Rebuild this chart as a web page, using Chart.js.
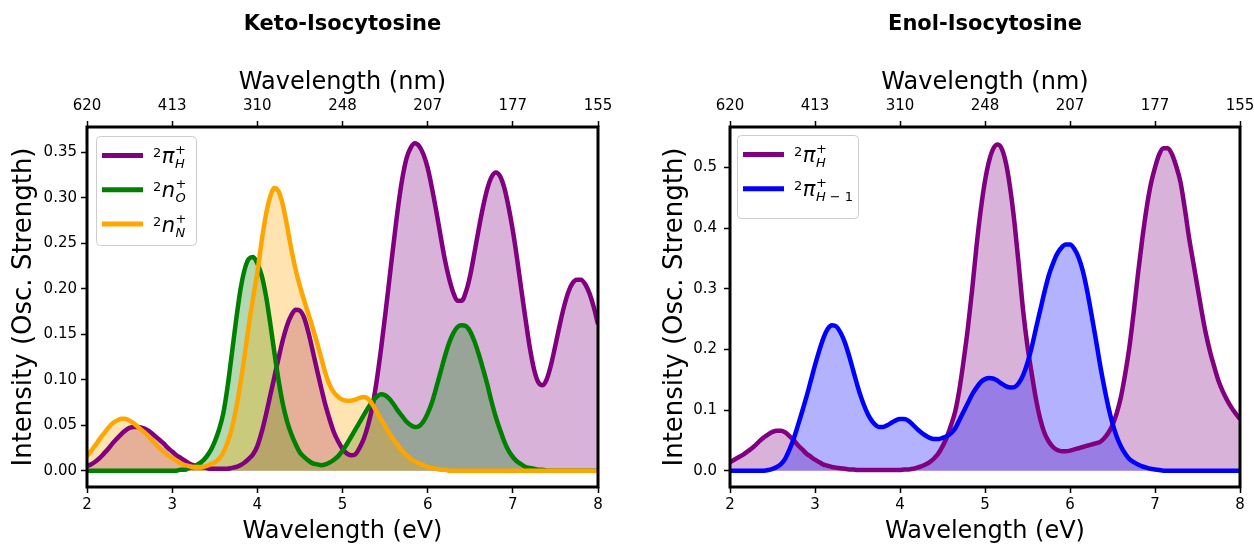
<!DOCTYPE html>
<html>
<head>
<meta charset="utf-8">
<script src="https://cdn.jsdelivr.net/npm/chart.js@4.4.1/dist/chart.umd.min.js"></script>
<style>
  body { margin: 0; background: #fff; }
  .panel { position: absolute; top: 0; width: 627px; height: 546px; }
</style>
</head>
<body>
<div class="panel" style="left:0"><canvas id="keto" width="627" height="546"></canvas></div>
<div class="panel" style="left:627px"><canvas id="enol" width="627" height="546"></canvas></div>
<script>
// energie (eV), pas de 0.05
const evGrid = [2.00, 2.05, 2.10, 2.15, 2.20, 2.25, 2.30, 2.35, 2.40, 2.45,
                2.50, 2.55, 2.60, 2.65, 2.70, 2.75, 2.80, 2.85, 2.90, 2.95,
                3.00, 3.05, 3.10, 3.15, 3.20, 3.25, 3.30, 3.35, 3.40, 3.45,
                3.50, 3.55, 3.60, 3.65, 3.70, 3.75, 3.80, 3.85, 3.90, 3.95,
                4.00, 4.05, 4.10, 4.15, 4.20, 4.25, 4.30, 4.35, 4.40, 4.45,
                4.50, 4.55, 4.60, 4.65, 4.70, 4.75, 4.80, 4.85, 4.90, 4.95,
                5.00, 5.05, 5.10, 5.15, 5.20, 5.25, 5.30, 5.35, 5.40, 5.45,
                5.50, 5.55, 5.60, 5.65, 5.70, 5.75, 5.80, 5.85, 5.90, 5.95,
                6.00, 6.05, 6.10, 6.15, 6.20, 6.25, 6.30, 6.35, 6.40, 6.45,
                6.50, 6.55, 6.60, 6.65, 6.70, 6.75, 6.80, 6.85, 6.90, 6.95,
                7.00, 7.05, 7.10, 7.15, 7.20, 7.25, 7.30, 7.35, 7.40, 7.45,
                7.50, 7.55, 7.60, 7.65, 7.70, 7.75, 7.80, 7.85, 7.90, 7.95,
                8.00];

// Keto-Isocytosine
const ketoPiH = [0.005, 0.007, 0.010, 0.014, 0.019, 0.024, 0.030, 0.035, 0.040, 0.044,
                 0.047, 0.048, 0.048, 0.047, 0.045, 0.042, 0.038, 0.034, 0.030, 0.025,
                 0.021, 0.017, 0.014, 0.011, 0.008, 0.006, 0.005, 0.004, 0.003, 0.002,
                 0.002, 0.002, 0.002, 0.002, 0.003, 0.004, 0.006, 0.009, 0.013, 0.018,
                 0.027, 0.042, 0.061, 0.082, 0.103, 0.124, 0.144, 0.160, 0.171, 0.177,
                 0.176, 0.168, 0.152, 0.132, 0.111, 0.091, 0.072, 0.056, 0.042, 0.032,
                 0.024, 0.019, 0.017, 0.018, 0.025, 0.035, 0.050, 0.070, 0.098, 0.132,
                 0.170, 0.210, 0.250, 0.288, 0.320, 0.343, 0.355, 0.360, 0.357, 0.348,
                 0.333, 0.311, 0.286, 0.259, 0.233, 0.212, 0.196, 0.187, 0.187, 0.197,
                 0.215, 0.240, 0.266, 0.290, 0.310, 0.323, 0.328, 0.324, 0.311, 0.290,
                 0.264, 0.233, 0.199, 0.166, 0.135, 0.111, 0.097, 0.094, 0.101, 0.117,
                 0.138, 0.160, 0.180, 0.196, 0.206, 0.210, 0.210, 0.205, 0.195, 0.180,
                 0.161];
const ketoNO = [0, 0, 0, 0, 0, 0, 0, 0, 0, 0,
                0, 0, 0, 0, 0, 0, 0, 0, 0, 0,
                0, 0, 0.001, 0.001, 0.003, 0.004, 0.007, 0.010, 0.015, 0.022,
                0.032, 0.045, 0.063, 0.092, 0.128, 0.165, 0.198, 0.221, 0.233, 0.235,
                0.228, 0.215, 0.193, 0.163, 0.130, 0.099, 0.073, 0.054, 0.040, 0.029,
                0.020, 0.015, 0.011, 0.008, 0.007, 0.006, 0.007, 0.009, 0.012, 0.016,
                0.022, 0.029, 0.037, 0.045, 0.053, 0.061, 0.069, 0.076, 0.081, 0.084,
                0.083, 0.079, 0.073, 0.066, 0.060, 0.054, 0.050, 0.048, 0.049, 0.054,
                0.063, 0.075, 0.091, 0.108, 0.125, 0.140, 0.151, 0.158, 0.160, 0.159,
                0.153, 0.142, 0.128, 0.112, 0.095, 0.076, 0.059, 0.045, 0.032, 0.022,
                0.015, 0.010, 0.007, 0.004, 0.003, 0.002, 0.001, 0.001, 0, 0,
                0, 0, 0, 0, 0, 0, 0, 0, 0, 0,
                0];
const ketoNN = [0.016, 0.022, 0.028, 0.035, 0.041, 0.047, 0.052, 0.055, 0.057, 0.057,
                0.055, 0.052, 0.048, 0.044, 0.040, 0.035, 0.030, 0.025, 0.021, 0.017,
                0.014, 0.011, 0.008, 0.006, 0.005, 0.004, 0.004, 0.004, 0.005, 0.007,
                0.009, 0.013, 0.020, 0.031, 0.046, 0.068, 0.095, 0.126, 0.160, 0.190,
                0.218, 0.252, 0.281, 0.301, 0.311, 0.307, 0.292, 0.269, 0.243, 0.221,
                0.203, 0.187, 0.172, 0.157, 0.141, 0.124, 0.107, 0.094, 0.086, 0.081,
                0.078, 0.077, 0.077, 0.078, 0.080, 0.081, 0.079, 0.073, 0.065, 0.057,
                0.049, 0.041, 0.034, 0.028, 0.022, 0.017, 0.013, 0.010, 0.008, 0.006,
                0.004, 0.003, 0.002, 0.001, 0.001, 0, 0, 0, 0, 0,
                0, 0, 0, 0, 0, 0, 0, 0, 0, 0,
                0, 0, 0, 0, 0, 0, 0, 0, 0, 0,
                0, 0, 0, 0, 0, 0, 0, 0, 0, 0,
                0];

// Enol-Isocytosine
const enolPiH = [0.014, 0.018, 0.022, 0.026, 0.031, 0.036, 0.042, 0.049, 0.055, 0.060,
                 0.064, 0.066, 0.066, 0.063, 0.057, 0.050, 0.042, 0.035, 0.028, 0.023,
                 0.018, 0.014, 0.010, 0.008, 0.006, 0.005, 0.004, 0.003, 0.002, 0.002,
                 0.001, 0.001, 0.001, 0.001, 0.001, 0.001, 0.001, 0.001, 0.001, 0.001,
                 0.001, 0.002, 0.002, 0.003, 0.005, 0.007, 0.010, 0.014, 0.020, 0.028,
                 0.040, 0.055, 0.075, 0.098, 0.135, 0.183, 0.237, 0.300, 0.370, 0.430,
                 0.478, 0.512, 0.532, 0.538, 0.530, 0.505, 0.462, 0.405, 0.335, 0.262,
                 0.205, 0.160, 0.118, 0.085, 0.062, 0.048, 0.039, 0.034, 0.032, 0.032,
                 0.033, 0.035, 0.037, 0.039, 0.041, 0.043, 0.045, 0.047, 0.053, 0.062,
                 0.075, 0.095, 0.122, 0.160, 0.205, 0.262, 0.325, 0.382, 0.432, 0.472,
                 0.500, 0.522, 0.532, 0.532, 0.522, 0.502, 0.476, 0.433, 0.385, 0.344,
                 0.303, 0.262, 0.225, 0.195, 0.170, 0.147, 0.130, 0.116, 0.104, 0.094,
                 0.085];
const enolPiH1 = [0, 0, 0, 0, 0, 0, 0, 0, 0, 0.001,
                  0.003, 0.006, 0.011, 0.020, 0.035, 0.053, 0.075, 0.098, 0.122, 0.148,
                  0.174, 0.198, 0.219, 0.234, 0.240, 0.238, 0.228, 0.212, 0.190, 0.165,
                  0.140, 0.118, 0.100, 0.086, 0.077, 0.072, 0.072, 0.075, 0.079, 0.083,
                  0.085, 0.085, 0.082, 0.076, 0.069, 0.063, 0.058, 0.054, 0.052, 0.052,
                  0.054, 0.057, 0.062, 0.070, 0.084, 0.098, 0.112, 0.126, 0.137, 0.146,
                  0.151, 0.153, 0.152, 0.148, 0.143, 0.139, 0.137, 0.138, 0.145, 0.158,
                  0.178, 0.204, 0.235, 0.265, 0.295, 0.322, 0.342, 0.358, 0.368, 0.373,
                  0.373, 0.366, 0.352, 0.330, 0.298, 0.260, 0.220, 0.178, 0.140, 0.106,
                  0.078, 0.056, 0.040, 0.028, 0.019, 0.014, 0.010, 0.007, 0.005, 0.003,
                  0.002, 0.001, 0, 0, 0, 0, 0, 0, 0, 0,
                  0, 0, 0, 0, 0, 0, 0, 0, 0, 0,
                  0];

// ticks
const evTicks = [2, 3, 4, 5, 6, 7, 8];
const nmLabels = ['620', '413', '310', '248', '207', '177', '155'];
const ketoYTicks = [0.00, 0.05, 0.10, 0.15, 0.20, 0.25, 0.30, 0.35];
const enolYTicks = [0.0, 0.1, 0.2, 0.3, 0.4, 0.5];

// legende : ^2 X^+_sub
const ketoNames = ['π', 'n', 'n'];
const ketoSubs = ['H', 'O', 'N'];
const enolNames = ['π', 'π'];
const enolSubs = ['H', 'H − 1'];

Chart.defaults.font.family = '"DejaVu Sans"';
Chart.defaults.color = '#000';

const pts = vals => evGrid.map((x, i) => ({ x: x, y: vals[i] }));

// cadre noir autour de la zone de tracé
const frame = {
  id: 'frame',
  afterDraw(chart) {
    const { ctx, chartArea: a } = chart;
    ctx.save();
    ctx.strokeStyle = '#000';
    ctx.lineWidth = 3;
    ctx.strokeRect(a.left, a.top, a.right - a.left, a.bottom - a.top);
    ctx.restore();
  }
};

// légende avec exposants / indices (texte mathématique)
const mathLegend = {
  id: 'mathLegend',
  afterDatasetsDraw(chart, args, opts) {
    const ctx = chart.ctx, a = chart.chartArea;
    const bx = a.left + opts.dx, by = a.top + opts.dy;
    ctx.save();
    ctx.beginPath();
    ctx.roundRect(bx + 0.5, by + 0.5, opts.w, opts.h, 4);
    ctx.fillStyle = 'rgba(255,255,255,0.8)';
    ctx.fill();
    ctx.strokeStyle = '#cccccc';
    ctx.lineWidth = 1;
    ctx.stroke();
    ctx.textAlign = 'left';
    ctx.textBaseline = 'alphabetic';
    opts.names.forEach((name, i) => {
      const y = by + 19.5 + i * 34.3;
      ctx.strokeStyle = opts.colors[i];
      ctx.lineWidth = 5;
      ctx.beginPath();
      ctx.moveTo(bx + 6, y);
      ctx.lineTo(bx + 47, y);
      ctx.stroke();
      const base = y + 7.5;
      let x = bx + 57;
      ctx.fillStyle = '#000';
      ctx.font = '13px "DejaVu Sans"';
      ctx.fillText('2', x, base - 6);
      x += ctx.measureText('2').width + 0.5;
      ctx.font = 'italic 21px "DejaVu Sans"';
      ctx.fillText(name, x, base);
      x += ctx.measureText(name).width + 0.5;
      ctx.font = '13px "DejaVu Sans"';
      ctx.fillText('+', x, base - 9);
      let sx = x;
      for (const ch of opts.subs[i]) {
        ctx.font = (/[A-Za-z]/.test(ch) ? 'italic ' : '') + '13px "DejaVu Sans"';
        ctx.fillText(ch, sx, base + 5);
        sx += ctx.measureText(ch).width;
      }
    });
    ctx.restore();
  }
};

function buildOptions(c) {
  const gridOpts = { drawOnChartArea: false, drawTicks: true, tickLength: 6, tickWidth: 1.5, tickColor: '#000' };
  return {
    responsive: false,
    animation: false,
    devicePixelRatio: 1,
    layout: { padding: { left: 0, top: 0, bottom: 0, right: c.padRight } },
    plugins: {
      legend: { display: false },
      tooltip: { enabled: false },
      filler: { drawTime: 'beforeDatasetsDraw' },
      title: {
        display: true, text: c.title, fullSize: false, color: '#000',
        font: { size: 21, weight: 'bold' }, padding: { top: 12, bottom: 0 }
      },
      mathLegend: c.legend
    },
    scales: {
      x: {
        type: 'linear', position: 'bottom', min: 2, max: 8,
        afterBuildTicks: s => { s.ticks = evTicks.map(v => ({ value: v })); },
        afterFit: s => { s.height = 59; s.paddingLeft = 0; s.paddingRight = 0; },
        ticks: { font: { size: 15 }, padding: 3, maxRotation: 0, autoSkip: false },
        grid: gridOpts,
        border: { display: false },
        title: { display: true, text: 'Wavelength (eV)', font: { size: 24 }, padding: { top: 0, bottom: 0 } }
      },
      x2: {
        type: 'linear', position: 'top', min: 2, max: 8,
        afterBuildTicks: s => { s.ticks = evTicks.map(v => ({ value: v })); },
        afterFit: s => { s.height = 89.8; s.paddingLeft = 0; s.paddingRight = 0; },
        ticks: { font: { size: 15 }, padding: 6, maxRotation: 0, autoSkip: false,
                 callback: (v, i) => nmLabels[i] },
        grid: gridOpts,
        border: { display: false },
        title: { display: true, text: 'Wavelength (nm)', font: { size: 24 }, padding: { top: 31.6, bottom: 0 } }
      },
      y: {
        type: 'linear', min: c.yMin, max: c.yMax,
        afterBuildTicks: s => { s.ticks = c.yTicks.map(v => ({ value: v })); },
        afterFit: s => { s.width = c.yWidth; },
        ticks: { font: { size: 15 }, padding: c.yTickPad, callback: v => v.toFixed(c.yDec) },
        grid: gridOpts,
        border: { display: false },
        title: { display: true, text: 'Intensity (Osc. Strength)', font: { size: 26 },
                 padding: { top: c.yTitlePad, bottom: 0 } }
      }
    }
  };
}

function line(vals, color, fillColor, order) {
  return {
    data: pts(vals), borderColor: color, backgroundColor: fillColor, fill: 'origin',
    borderWidth: 4.5, pointRadius: 0, cubicInterpolationMode: 'monotone', order: order
  };
}

new Chart(document.getElementById('keto'), {
  type: 'line',
  data: {
    datasets: [
      line(ketoPiH, 'purple', 'rgba(128,0,128,0.3)', 3),
      line(ketoNO, 'green', 'rgba(0,128,0,0.3)', 2),
      line(ketoNN, 'orange', 'rgba(255,165,0,0.3)', 1)
    ]
  },
  options: buildOptions({
    title: 'Keto-Isocytosine', padRight: 29, yWidth: 87, yTickPad: 4, yTitlePad: 8.4,
    yMin: -0.018, yMax: 0.378, yTicks: ketoYTicks, yDec: 2,
    legend: { dx: 9, dy: 9, w: 100, h: 109, names: ketoNames, subs: ketoSubs,
              colors: ['purple', 'green', 'orange'] }
  }),
  plugins: [mathLegend, frame]
});

new Chart(document.getElementById('enol'), {
  type: 'line',
  data: {
    datasets: [
      line(enolPiH, 'purple', 'rgba(128,0,128,0.3)', 2),
      line(enolPiH1, 'blue', 'rgba(0,0,255,0.3)', 1)
    ]
  },
  options: buildOptions({
    title: 'Enol-Isocytosine', padRight: 14, yWidth: 103, yTickPad: 7, yTitlePad: 32.4,
    yMin: -0.027, yMax: 0.567, yTicks: enolYTicks, yDec: 1,
    legend: { dx: 7, dy: 8, w: 121, h: 83, names: enolNames, subs: enolSubs,
              colors: ['purple', 'blue'] }
  }),
  plugins: [mathLegend, frame]
});
</script>
</body>
</html>
